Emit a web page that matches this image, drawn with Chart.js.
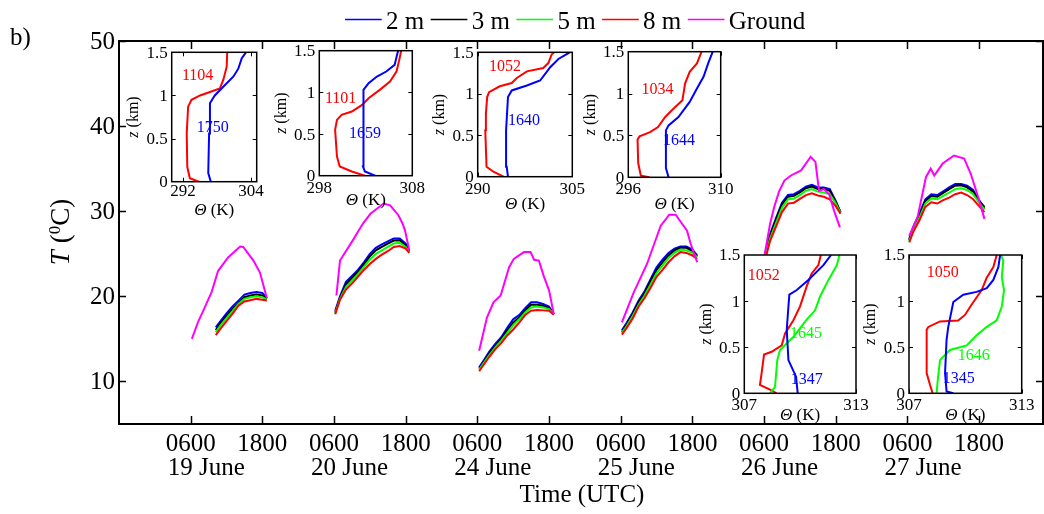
<!DOCTYPE html>
<html>
<head>
<meta charset="utf-8">
<script src="https://cdn.jsdelivr.net/npm/chart.js@4.4.1/dist/chart.umd.min.js"></script>
<style>
  html, body { margin: 0; padding: 0; background: #fff; }
  #wrap { position: relative; width: 1044px; height: 514px; overflow: hidden; background: #fff; }
  #wrap canvas { position: absolute; }
</style>
</head>
<body>
<div id="wrap"><canvas id="main" width="1044" height="514" style="left:0;top:0"></canvas></div>
<script>
const SERIF = '"Liberation Serif", "Times New Roman", serif';

const seriesNames = ['2 m', '3 m', '5 m', '8 m', 'Ground'];
const seriesColors = ['#0000ff', '#000000', '#00ff00', '#ff0000', '#ff00ff'];
const dayLabels = ['19 June', '20 June', '24 June', '25 June', '26 June', '27 June'];
// hours counted from 0000 of the first day, one 24 h slot per day
const hourTicks = [6, 18, 30, 42, 54, 66, 78, 90, 102, 114, 126, 138];
const hourTickLabels = ['0600', '1800', '0600', '1800', '0600', '1800', '0600', '1800', '0600', '1800', '0600', '1800'];
const tempTicks = [10, 20, 30, 40, 50];

// tower levels share one time grid per day
const towerHours = [
  [10.2, 11, 12, 13, 14, 15, 16, 17, 18, 18.75],
  [30.2, 31, 32, 33, 34, 35, 36, 37, 38, 39, 40, 41, 42, 42.6],
  [54.3, 55, 56, 57, 58, 59, 60, 61, 62, 63, 64, 65, 66, 66.8],
  [78.2, 79, 80, 81, 82, 83, 84, 85, 86, 87, 88, 89, 90, 90.8],
  [102, 103, 104, 105, 106, 107, 108, 109, 110, 111, 112, 113, 114, 114.8],
  [126.3, 127, 128, 129, 130, 131, 132, 133, 134, 135, 136, 137, 138, 138.9]
];
const t2m = [
  [16.35, 17.1, 18.0, 18.8, 19.5, 20.2, 20.4, 20.5, 20.4, 19.8],
  [18.3, 20.0, 21.7, 22.4, 23.1, 24.0, 25.0, 25.7, 26.1, 26.45, 26.8, 26.8, 26.2, 25.4],
  [11.65, 12.4, 13.5, 14.4, 15.2, 16.3, 17.3, 17.8, 18.6, 19.3, 19.3, 19.1, 18.8, 17.9],
  [16.0, 16.9, 18.1, 19.5, 20.6, 22.0, 23.4, 24.3, 25.1, 25.6, 25.85, 25.85, 25.5, 24.8],
  [24.5, 27.3, 29.2, 31.0, 31.9, 32.0, 32.4, 32.9, 33.1, 32.8, 32.8, 32.6, 31.2, 29.9],
  [26.75, 28.2, 29.7, 31.4, 32.0, 31.9, 32.35, 32.8, 33.2, 33.2, 33.0, 32.5, 31.3, 30.3]
];
const t3m = [
  [16.05, 16.85, 17.7, 18.5, 19.2, 19.9, 20.1, 20.2, 20.1, 19.7],
  [18.1, 19.8, 21.4, 22.15, 22.85, 23.75, 24.7, 25.4, 25.8, 26.2, 26.55, 26.6, 26.0, 25.3],
  [11.5, 12.2, 13.3, 14.2, 15.0, 16.0, 16.9, 17.5, 18.3, 19.0, 19.0, 18.9, 18.6, 17.9],
  [15.8, 16.7, 17.9, 19.3, 20.4, 21.8, 23.1, 24.0, 24.8, 25.4, 25.7, 25.7, 25.3, 24.7],
  [24.3, 27.1, 29.0, 30.8, 31.7, 31.8, 32.2, 32.7, 32.9, 32.6, 32.6, 32.4, 31.1, 29.85],
  [26.6, 28.0, 29.5, 31.2, 31.8, 31.7, 32.15, 32.6, 33.0, 33.05, 32.8, 32.3, 31.2, 30.5]
];
const t5m = [
  [15.8, 16.6, 17.45, 18.25, 19.1, 19.7, 19.9, 20.0, 19.9, 19.6],
  [18.0, 19.7, 21.1, 21.85, 22.6, 23.45, 24.3, 25.0, 25.4, 25.8, 26.2, 26.3, 25.8, 25.2],
  [11.4, 12.1, 13.1, 14.0, 14.8, 15.7, 16.6, 17.3, 18.1, 18.7, 18.8, 18.7, 18.5, 17.9],
  [15.7, 16.5, 17.7, 19.0, 20.1, 21.4, 22.7, 23.6, 24.5, 25.1, 25.5, 25.4, 25.1, 24.6],
  [24.1, 26.8, 28.6, 30.4, 31.4, 31.5, 31.9, 32.4, 32.6, 32.3, 32.2, 32.0, 30.9, 29.8],
  [26.5, 27.8, 29.2, 30.9, 31.5, 31.4, 31.8, 32.2, 32.6, 32.7, 32.5, 32.0, 31.0, 30.2]
];
const t8m = [
  [15.45, 16.2, 17.1, 17.95, 18.9, 19.4, 19.55, 19.7, 19.6, 19.5],
  [17.9, 19.6, 20.8, 21.5, 22.3, 23.1, 23.8, 24.4, 24.9, 25.3, 25.8, 25.9, 25.6, 25.1],
  [11.2, 11.9, 12.9, 13.8, 14.5, 15.4, 16.1, 16.9, 17.8, 18.3, 18.4, 18.35, 18.3, 17.85],
  [15.5, 16.3, 17.4, 18.8, 19.8, 21.0, 22.3, 23.1, 24.0, 24.7, 25.2, 25.1, 24.8, 24.4],
  [23.8, 26.5, 28.2, 29.9, 30.9, 31.0, 31.45, 31.9, 32.1, 31.85, 31.7, 31.4, 30.6, 29.7],
  [26.35, 27.6, 28.9, 30.5, 31.05, 30.9, 31.3, 31.6, 32.0, 32.2, 31.9, 31.4, 30.6, 29.9]
];
const groundHours = [
  [6.2, 7.3, 8.1, 9.5, 10.6, 12.3, 14.3, 14.8, 16.5, 17.6, 18.75],
  [30.4, 31.0, 31.9, 33.3, 34.1, 35.0, 36.1, 38.3, 39.4, 40.8, 41.5, 41.9, 42.6],
  [54.3, 55.6, 56.7, 57.9, 59.3, 60.1, 61.8, 62.9, 63.5, 64.3, 65.1, 66.0, 66.8],
  [78.2, 80.2, 82.4, 84.7, 85.5, 86.1, 87.2, 88.3, 89.1, 89.7, 90.8],
  [102, 103, 103.7, 104.5, 105.4, 106.5, 108.2, 109.8, 110.6, 111.2, 112, 112.9, 113.7, 114.7],
  [126.3, 127.7, 129.1, 129.9, 130.5, 131.9, 133.8, 135.5, 136.6, 137.7, 138.9]
];
const tGround = [
  [15.0, 17.1, 18.3, 20.5, 23.0, 24.6, 25.85, 25.8, 24.2, 22.8, 19.8],
  [20.1, 24.2, 25.2, 26.75, 27.7, 28.7, 29.7, 30.9, 30.7, 29.5, 28.5, 27.7, 25.4],
  [13.6, 17.5, 19.3, 20.1, 23.4, 24.4, 25.2, 25.2, 24.3, 24.2, 22.4, 20.7, 17.9],
  [16.95, 20.5, 23.8, 28.3, 29.0, 29.6, 29.6, 28.5, 27.7, 26.2, 24.0],
  [24.5, 28.5, 30.5, 32.3, 33.6, 34.2, 34.8, 36.4, 35.8, 32.4, 32.6, 32.0, 30.1, 28.1],
  [27.1, 29.3, 34.0, 35.0, 34.2, 35.6, 36.55, 36.2, 34.4, 32.0, 29.1]
];

// potential temperature profiles (theta in K, z in km)
const in1RedTh = [294.8, 293.2, 292.75, 292.65, 292.9, 293.5, 295.0, 296.75, 298.5, 299.1, 299.7, 299.8];
const in1RedZ = [0, 0.04, 0.17, 0.56, 0.87, 0.95, 1.0, 1.04, 1.08, 1.18, 1.33, 1.5];
const in1BlueTh = [296.9, 296.45, 296.6, 296.75, 297.6, 299.1, 300.9, 301.75, 302.35, 303.1];
const in1BlueZ = [0, 0.1, 0.56, 0.91, 1.0, 1.10, 1.22, 1.31, 1.43, 1.5];

const in2RedTh = [302.9, 301.5, 300.2, 299.9, 299.7, 299.9, 300.4, 301.5, 302.6, 303.3, 304.5, 305.6, 306.3, 306.6, 306.8];
const in2RedZ = [0, 0.05, 0.11, 0.23, 0.55, 0.67, 0.73, 0.77, 0.85, 0.93, 1.03, 1.13, 1.25, 1.39, 1.5];
const in2BlueTh = [304.0, 302.9, 302.7, 302.7, 302.8, 303.3, 304.2, 305.2, 306.1, 306.4, 306.5];
const in2BlueZ = [0, 0.05, 0.11, 0.55, 1.03, 1.11, 1.19, 1.25, 1.33, 1.47, 1.5];

const in3RedTh = [294.1, 292.5, 291.4, 291.2, 291.3, 291.5, 291.8, 293.5, 295.4, 296.2, 297.8, 300.4, 301.2, 301.7, 302.1];
const in3RedZ = [0, 0.06, 0.12, 0.56, 0.76, 0.96, 1.02, 1.09, 1.13, 1.19, 1.27, 1.31, 1.37, 1.47, 1.5];
const in3BlueTh = [294.8, 294.6, 294.5, 294.8, 295.4, 297.8, 299.9, 300.7, 301.5, 302.8, 304.6];
const in3BlueZ = [0, 0.12, 0.56, 0.96, 1.04, 1.10, 1.16, 1.24, 1.32, 1.42, 1.5];

const in4RedTh = [299.2, 297.9, 297.5, 297.4, 297.7, 299.3, 300.5, 301.6, 302.6, 304.2, 304.6, 305.3, 306.4, 307.1];
const in4RedZ = [0, 0.02, 0.17, 0.45, 0.49, 0.54, 0.60, 0.72, 0.80, 0.92, 1.12, 1.26, 1.36, 1.5];
const in4BlueTh = [302.1, 301.7, 301.7, 302.1, 303.6, 305.3, 306.4, 307.4, 308.1, 308.8];
const in4BlueZ = [0, 0.11, 0.56, 0.62, 0.72, 0.90, 1.06, 1.20, 1.36, 1.5];

const in5RedTh = [308.74, 308.38, 307.84, 307.93, 308.06, 308.47, 309.01, 309.19, 309.63, 309.99, 310.35, 310.62, 310.98, 311.11];
const in5RedZ = [0, 0.04, 0.09, 0.22, 0.42, 0.45, 0.52, 0.65, 0.79, 0.94, 1.16, 1.30, 1.39, 1.5];
const in5GreenTh = [308.38, 308.65, 308.77, 308.92, 309.63, 310.35, 310.8, 311.07, 311.52, 311.97, 312.11];
const in5GreenZ = [0, 0.07, 0.36, 0.47, 0.61, 0.80, 0.90, 1.05, 1.23, 1.39, 1.5];
const in5BlueTh = [309.87, 309.78, 309.37, 309.28, 309.37, 309.42, 309.82, 310.44, 311.25, 311.66];
const in5BlueZ = [0, 0.18, 0.36, 0.69, 0.94, 1.07, 1.12, 1.23, 1.39, 1.5];

const in6RedTh = [308.26, 308.12, 307.94, 307.94, 308.03, 308.65, 309.62, 309.98, 310.33, 310.87, 311.13, 311.49, 311.67];
const in6RedZ = [0, 0.09, 0.22, 0.69, 0.72, 0.78, 0.79, 0.85, 0.96, 1.12, 1.25, 1.37, 1.5];
const in6GreenTh = [308.47, 308.53, 308.65, 309.18, 310.07, 310.6, 311.14, 311.67, 311.94, 312.06, 311.94, 312.02, 311.9];
const in6GreenZ = [0, 0.14, 0.36, 0.47, 0.52, 0.63, 0.72, 0.79, 0.94, 1.12, 1.26, 1.44, 1.5];
const in6BlueTh = [309.36, 309.0, 308.92, 309.0, 309.09, 309.36, 309.89, 310.6, 311.14, 311.49, 311.76, 311.85];
const in6BlueZ = [0, 0.02, 0.22, 0.58, 0.72, 0.99, 1.07, 1.10, 1.14, 1.23, 1.37, 1.5];

// one dataset per level, days separated by a null gap
function joinDays(hours, values) {
  const pts = [];
  hours.forEach((day, d) => {
    if (d > 0) pts.push({ x: day[0] - 1, y: null });
    day.forEach((h, i) => pts.push({ x: h, y: values[d][i] }));
  });
  return pts;
}

const seriesData = [
  joinDays(towerHours, t2m),
  joinDays(towerHours, t3m),
  joinDays(towerHours, t5m),
  joinDays(towerHours, t8m),
  joinDays(groundHours, tGround)
];

const mainFrame = {
  id: 'mainFrame',
  afterDraw(chart) {
    const { ctx, chartArea: a, scales: { x, y } } = chart;
    ctx.save();
    ctx.strokeStyle = '#000';
    ctx.lineWidth = 2;
    ctx.strokeRect(a.left, a.top, a.right - a.left, a.bottom - a.top);

    ctx.lineWidth = 1.5;
    ctx.beginPath();
    hourTicks.forEach(h => {
      const px = Math.round(x.getPixelForValue(h)) + 0.5;
      ctx.moveTo(px, a.bottom); ctx.lineTo(px, a.bottom - 8);
      ctx.moveTo(px, a.top); ctx.lineTo(px, a.top + 8);
    });
    tempTicks.forEach(v => {
      const py = Math.round(y.getPixelForValue(v)) + 0.5;
      ctx.moveTo(a.left, py); ctx.lineTo(a.left + 7, py);
      ctx.moveTo(a.right, py); ctx.lineTo(a.right - 7, py);
    });
    ctx.stroke();

    ctx.fillStyle = '#000';
    ctx.font = `25px ${SERIF}`;
    ctx.textAlign = 'right';
    ctx.textBaseline = 'middle';
    tempTicks.forEach(v => ctx.fillText(String(v), a.left - 4, y.getPixelForValue(v) + 1));

    ctx.textAlign = 'center';
    ctx.textBaseline = 'alphabetic';
    hourTicks.forEach((h, i) => ctx.fillText(hourTickLabels[i], x.getPixelForValue(h), 451));

    ctx.textAlign = 'left';
    dayLabels.forEach((d, i) => {
      const px = x.getPixelForValue(hourTicks[i * 2]);
      const w = ctx.measureText(hourTickLabels[i * 2]).width;
      ctx.fillText(d, px - w / 2 + 2, 475);
    });

    ctx.textAlign = 'center';
    ctx.fillText('Time (UTC)', (a.left + a.right) / 2 + 1, 502);

    ctx.textAlign = 'left';
    ctx.fillText('b)', 10, 45);

    // legend
    let lx = 345;
    chart.data.datasets.forEach(ds => {
      ctx.strokeStyle = ds.borderColor;
      ctx.lineWidth = 1.5;
      ctx.beginPath();
      ctx.moveTo(lx, 19.5); ctx.lineTo(lx + 36.7, 19.5);
      ctx.stroke();
      ctx.fillStyle = '#000';
      ctx.fillText(ds.label, lx + 41, 29);
      lx += 41 + ctx.measureText(ds.label).width + 6.5;
    });

    // rotated y title: T (°C) with raised 0
    ctx.translate(60, 232);
    ctx.rotate(-Math.PI / 2);
    const parts = [
      [`italic 27px ${SERIF}`, 'T', 0],
      [`27px ${SERIF}`, ' (', 0],
      [`17px ${SERIF}`, '0', -9],
      [`27px ${SERIF}`, 'C)', 0]
    ];
    let total = 0;
    parts.forEach(p => { ctx.font = p[0]; total += ctx.measureText(p[1]).width; });
    let tx = -total / 2;
    parts.forEach(p => {
      ctx.font = p[0];
      ctx.fillText(p[1], tx, 9 + p[2]);
      tx += ctx.measureText(p[1]).width;
    });
    ctx.restore();
  }
};

new Chart(document.getElementById('main'), {
  type: 'line',
  data: {
    datasets: seriesNames.map((name, i) => ({
      label: name,
      data: seriesData[i],
      borderColor: seriesColors[i],
      backgroundColor: seriesColors[i],
      borderWidth: 2,
      pointRadius: 0,
      fill: false,
      spanGaps: false,
      order: seriesNames.length - i
    }))
  },
  options: {
    responsive: false,
    animation: false,
    events: [],
    layout: { padding: { left: 119, top: 41, right: 1, bottom: 90 } },
    scales: {
      x: { type: 'linear', display: false, min: -6, max: 148.7 },
      y: { type: 'linear', display: false, min: 5, max: 50 }
    },
    plugins: { legend: { display: false }, tooltip: { enabled: false } }
  },
  plugins: [mainFrame]
});

const insetFrame = {
  id: 'insetFrame',
  beforeDatasetsDraw(chart) {
    const { ctx, chartArea: a } = chart;
    ctx.save();
    ctx.fillStyle = '#fff';
    ctx.fillRect(a.left, a.top, a.right - a.left, a.bottom - a.top);
    ctx.restore();
  },
  afterDraw(chart, args, opts) {
    const { ctx, chartArea: a, scales: { x, y } } = chart;
    ctx.save();
    ctx.strokeStyle = '#000';
    ctx.lineWidth = 1.5;
    ctx.strokeRect(a.left, a.top, a.right - a.left, a.bottom - a.top);
    ctx.lineWidth = 1;
    ctx.beginPath();
    [0.5, 1].forEach(v => {
      const py = Math.round(y.getPixelForValue(v)) + 0.5;
      ctx.moveTo(a.left, py); ctx.lineTo(a.left + 4, py);
      ctx.moveTo(a.right, py); ctx.lineTo(a.right - 4, py);
    });
    opts.xTicks.forEach(v => {
      const px = Math.round(x.getPixelForValue(v)) + 0.5;
      ctx.moveTo(px, a.bottom); ctx.lineTo(px, a.bottom - 4);
      ctx.moveTo(px, a.top); ctx.lineTo(px, a.top + 4);
    });
    ctx.stroke();

    ctx.fillStyle = '#000';
    ctx.font = `17px ${SERIF}`;
    ctx.textAlign = 'right';
    ctx.textBaseline = 'middle';
    [[0, '0'], [0.5, '0.5'], [1, '1'], [1.5, '1.5']].forEach(([v, t]) =>
      ctx.fillText(t, a.left - 4, y.getPixelForValue(v) + 1));

    ctx.textAlign = 'center';
    ctx.textBaseline = 'alphabetic';
    opts.xTicks.forEach(v => ctx.fillText(String(v), x.getPixelForValue(v), a.bottom + opts.tickDy));

    // x title: Θ (K)
    ctx.textBaseline = 'middle';
    ctx.textAlign = 'left';
    ctx.font = `italic 17px ${SERIF}`;
    const wTh = ctx.measureText('\u0398').width;
    ctx.font = `17px ${SERIF}`;
    const wK = ctx.measureText(' (K)').width;
    const cx = (a.left + a.right) / 2 - (wTh + wK) / 2;
    ctx.font = `italic 17px ${SERIF}`;
    ctx.fillText('\u0398', cx, a.bottom + opts.labelDy);
    ctx.font = `17px ${SERIF}`;
    ctx.fillText(' (K)', cx + wTh, a.bottom + opts.labelDy);

    // launch-time notes
    ctx.font = `16px ${SERIF}`;
    opts.notes.forEach(n => {
      ctx.fillStyle = n.color;
      ctx.fillText(n.text, x.getPixelForValue(n.th), y.getPixelForValue(n.z));
    });

    // y title: z (km)
    ctx.fillStyle = '#000';
    ctx.translate(a.left - 38, (a.top + a.bottom) / 2);
    ctx.rotate(-Math.PI / 2);
    ctx.font = `italic 16px ${SERIF}`;
    const wz = ctx.measureText('z').width;
    ctx.font = `16px ${SERIF}`;
    const wkm = ctx.measureText(' (km)').width;
    const zx = -(wz + wkm) / 2;
    ctx.font = `italic 16px ${SERIF}`;
    ctx.fillText('z', zx, 0);
    ctx.font = `16px ${SERIF}`;
    ctx.fillText(' (km)', zx + wz, 0);
    ctx.restore();
  }
};

function addInset(box, xRange, xTicks, profiles, notes, tickDy, labelDy) {
  const wrap = document.getElementById('wrap');
  const canvas = document.createElement('canvas');
  const x0 = Math.floor(box[0]) - 60, y0 = Math.floor(box[1]) - 14;
  const x1 = Math.ceil(box[2]) + 20, y1 = Math.ceil(box[3]) + 44;
  canvas.width = x1 - x0;
  canvas.height = y1 - y0;
  canvas.style.left = x0 + 'px';
  canvas.style.top = y0 + 'px';
  wrap.appendChild(canvas);
  new Chart(canvas, {
    type: 'line',
    data: {
      datasets: profiles.map(p => ({
        data: p.th.map((t, i) => ({ x: t, y: p.z[i] })),
        borderColor: p.color,
        borderWidth: 2,
        pointRadius: 0,
        fill: false
      }))
    },
    options: {
      responsive: false,
      animation: false,
      events: [],
      layout: { padding: { left: box[0] - x0, top: box[1] - y0, right: x1 - box[2], bottom: y1 - box[3] } },
      scales: {
        x: { type: 'linear', display: false, min: xRange[0], max: xRange[1] },
        y: { type: 'linear', display: false, min: 0, max: 1.5 }
      },
      plugins: {
        legend: { display: false },
        tooltip: { enabled: false },
        insetFrame: { xTicks, notes, tickDy, labelDy }
      }
    },
    plugins: [insetFrame]
  });
}

const RED = '#ff0000', BLUE = '#0000ff', GREEN = '#00ff00';

addInset([171.7, 52.3, 256.7, 181.7], [290, 305], [292, 304],
  [{ th: in1BlueTh, z: in1BlueZ, color: BLUE }, { th: in1RedTh, z: in1RedZ, color: RED }],
  [{ text: '1104', color: RED, th: 291.8, z: 1.225 }, { text: '1750', color: BLUE, th: 294.4, z: 0.63 }], 14, 29);

addInset([319.3, 50.7, 412.3, 175.7], [298, 308], [298, 308],
  [{ th: in2BlueTh, z: in2BlueZ, color: BLUE }, { th: in2RedTh, z: in2RedZ, color: RED }],
  [{ text: '1101', color: RED, th: 298.6, z: 0.92 }, { text: '1659', color: BLUE, th: 301.2, z: 0.5 }], 17, 25);

addInset([477.7, 52.3, 572.3, 176.7], [290, 305], [290, 305],
  [{ th: in3BlueTh, z: in3BlueZ, color: BLUE }, { th: in3RedTh, z: in3RedZ, color: RED }],
  [{ text: '1052', color: RED, th: 291.8, z: 1.32 }, { text: '1640', color: BLUE, th: 294.8, z: 0.675 }], 17, 27.5);

addInset([628.3, 51.7, 720.7, 177.3], [296, 310], [296, 310],
  [{ th: in4BlueTh, z: in4BlueZ, color: BLUE }, { th: in4RedTh, z: in4RedZ, color: RED }],
  [{ text: '1034', color: RED, th: 298.0, z: 1.05 }, { text: '1644', color: BLUE, th: 301.25, z: 0.43 }], 17, 27);

addInset([744.3, 255, 856, 393.3], [307, 313], [307, 313],
  [{ th: in5BlueTh, z: in5BlueZ, color: BLUE }, { th: in5GreenTh, z: in5GreenZ, color: GREEN }, { th: in5RedTh, z: in5RedZ, color: RED }],
  [{ text: '1052', color: RED, th: 307.18, z: 1.275 }, { text: '1645', color: GREEN, th: 309.46, z: 0.643 },
   { text: '1347', color: BLUE, th: 309.5, z: 0.144 }], 16.5, 22.7);

addInset([909, 255, 1021.7, 393.3], [307, 313], [307, 313],
  [{ th: in6BlueTh, z: in6BlueZ, color: BLUE }, { th: in6GreenTh, z: in6GreenZ, color: GREEN }, { th: in6RedTh, z: in6RedZ, color: RED }],
  [{ text: '1050', color: RED, th: 307.94, z: 1.31 }, { text: '1646', color: GREEN, th: 309.6, z: 0.405 },
   { text: '1345', color: BLUE, th: 308.8, z: 0.152 }], 16.5, 22.7);
</script>
</body>
</html>
